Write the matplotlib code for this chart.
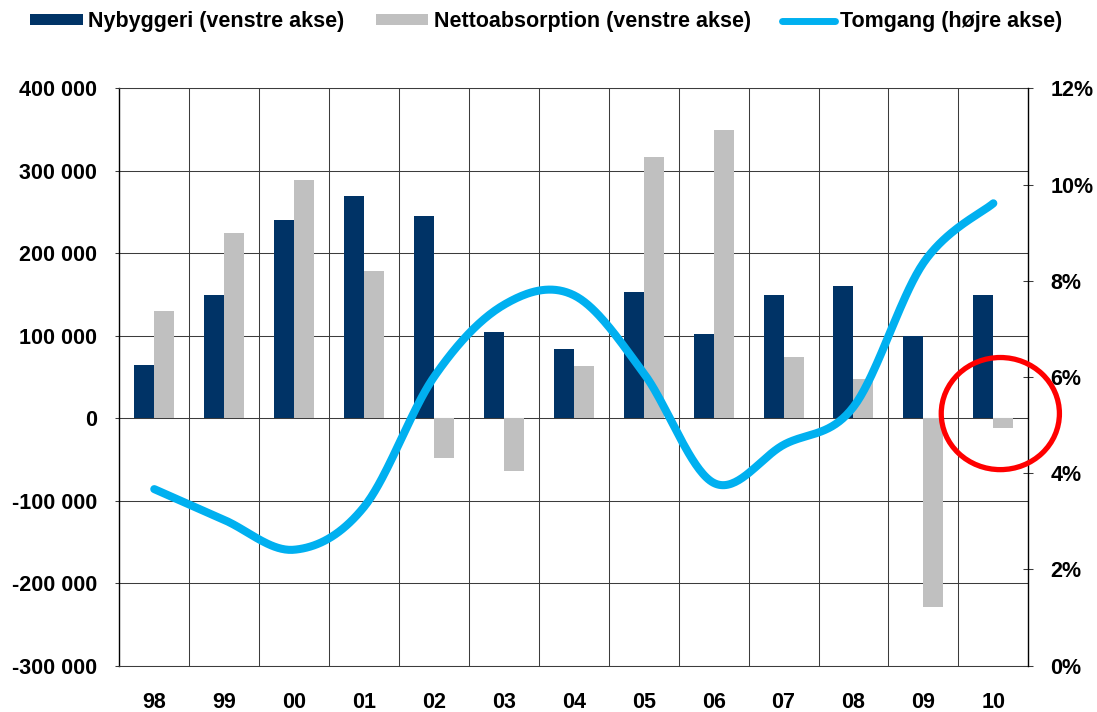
import numpy as np
import matplotlib
matplotlib.use("Agg")
import matplotlib.pyplot as plt
from matplotlib.patches import Ellipse, Patch
from matplotlib.lines import Line2D
from matplotlib.ticker import FixedLocator

plt.rcParams['font.family'] = ['Liberation Sans', 'DejaVu Sans']
plt.rcParams['font.weight'] = 'bold'

# --- data -------------------------------------------------------------
years = ["98", "99", "00", "01", "02", "03", "04", "05", "06", "07", "08", "09", "10"]
nybyggeri = [64000, 149000, 240000, 269000, 245000, 105000, 84000, 153000, 102000,
             149000, 160000, 100000, 149000]
nettoabsorption = [130000, 224000, 289000, 179000, -48000, -64000, 63000, 317000, 350000,
                   74000, 47000, -229000, -12000]
tomgang = [3.67, 3.03, 2.41, 3.30, 6.00, 7.50, 7.70, 6.08, 3.80, 4.59, 5.38, 8.37, 9.61]

left_ticks = [-300000, -200000, -100000, 0, 100000, 200000, 300000, 400000]
left_labels = ["-300 000", "-200 000", "-100 000", "0", "100 000", "200 000", "300 000", "400 000"]
right_ticks = [0, 2, 4, 6, 8, 10, 12]
right_labels = ["0%", "2%", "4%", "6%", "8%", "10%", "12%"]

NAVY = "#003366"
GREY = "#C0C0C0"
BLUE = "#00B0F0"
GRID = "#3c3c3c"
FS = 15.5


def smooth_curve(xs, ys, n=40):
    """Cubic Bezier smoothing through every point (Catmull-Rom style)."""
    pts = np.column_stack([xs, ys]).astype(float)
    ext = np.vstack([pts[0], pts, pts[-1]])
    out = []
    t = np.linspace(0, 1, n)[:, None]
    for i in range(len(pts) - 1):
        p0, p1, p2, p3 = ext[i], ext[i + 1], ext[i + 2], ext[i + 3]
        b1 = p1 + (p2 - p0) / 6.0
        b2 = p2 - (p3 - p1) / 6.0
        seg = ((1 - t) ** 3) * p1 + 3 * ((1 - t) ** 2) * t * b1 + 3 * (1 - t) * t ** 2 * b2 + t ** 3 * p2
        out.append(seg if i == 0 else seg[1:])
    seg = np.vstack(out)
    return seg[:, 0], seg[:, 1]


fig = plt.figure(figsize=(10.97, 7.12), dpi=100)
ax = fig.add_axes([119.3 / 1097, 1 - 665.7 / 712, (1028.3 - 119.3) / 1097, (665.7 - 88.3) / 712])

x = np.arange(len(years))
w = 0.286
ax.bar(x - w / 2, nybyggeri, width=w, color=NAVY, zorder=2, linewidth=0)
ax.bar(x + w / 2, nettoabsorption, width=w, color=GREY, zorder=2, linewidth=0)

ax.set_xlim(-0.5, len(years) - 0.5)
ax.set_ylim(-300000, 400000)
ax.set_axisbelow(True)

ax.yaxis.set_major_locator(FixedLocator(left_ticks))
ax.set_yticklabels(left_labels, fontsize=FS, fontweight='bold')
ax.set_xticks(x)
ax.set_xticklabels(years, fontsize=FS, fontweight='bold')
ax.xaxis.set_minor_locator(FixedLocator(np.arange(len(years) - 1) + 0.5))

ax.grid(axis='y', which='major', color=GRID, linewidth=0.75)
ax.grid(axis='x', which='minor', color=GRID, linewidth=0.75)
ax.tick_params(axis='x', which='both', length=0, pad=19)
ax.tick_params(axis='y', which='major', length=3, width=0.75, color=GRID, pad=13)

for s in ['top', 'bottom']:
    ax.spines[s].set_color(GRID)
    ax.spines[s].set_linewidth(0.75)
ax.spines['left'].set_color('black')
ax.spines['left'].set_linewidth(1.0)
ax.spines['right'].set_visible(False)

# right axis with vacancy rate
ax2 = ax.twinx()
ax2.set_ylim(0, 12)
ax2.yaxis.set_major_locator(FixedLocator(right_ticks))
ax2.set_yticklabels(right_labels, fontsize=FS, fontweight='bold')
ax2.tick_params(axis='y', direction='inout', length=7.5, width=0.75, color=GRID, pad=12)
for s in ['top', 'bottom', 'left']:
    ax2.spines[s].set_visible(False)
ax2.spines['right'].set_color('black')
ax2.spines['right'].set_linewidth(1.0)

sx, sy = smooth_curve(x, tomgang)
ax2.plot(sx, sy, color=BLUE, linewidth=5.8, solid_capstyle='round', solid_joinstyle='round', zorder=3)

# red ring highlighting the latest year (sizes in right-axis units)
last = len(years) - 1
ring = Ellipse((last + 0.1, 5.24), width=1.69, height=2.33,
               fill=False, edgecolor='#FF0000', linewidth=3.8, clip_on=False, zorder=5)
ax2.add_patch(ring)

# legend along the top
handles = [Patch(facecolor=NAVY, edgecolor='none'),
           Patch(facecolor=GREY, edgecolor='none'),
           Line2D([0], [0], color=BLUE, linewidth=5, solid_capstyle='round')]
labels = ["Nybyggeri (venstre akse)", "Nettoabsorption (venstre akse)", "Tomgang (højre akse)"]
fig.legend(handles, labels, loc='center left', bbox_to_anchor=(30 / 1097, 1 - 22 / 712),
           ncol=3, frameon=False, borderpad=0, borderaxespad=0,
           handlelength=2.45, handleheight=0.4, handletextpad=0.25, columnspacing=1.45,
           prop={'size': FS, 'weight': 'bold'})

fig.savefig("out.png", dpi=100)
